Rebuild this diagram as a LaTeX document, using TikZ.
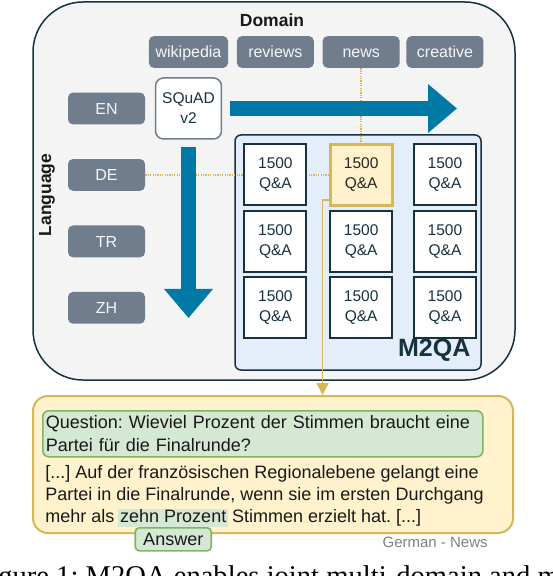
\documentclass[tikz,border=0pt]{standalone}
\usepackage{fontspec}
\setmainfont{Liberation Sans}
\newfontfamily\captionserif{Liberation Serif}
\usepackage{tikz}
\usetikzlibrary{positioning,arrows.meta}
\frenchspacing
\definecolor{darkline}{HTML}{17323F}
\definecolor{slate}{HTML}{6F7D8C}
\definecolor{bluearrow}{HTML}{007AA5}
\definecolor{panelfill}{HTML}{F4F4F4}
\definecolor{groupfill}{HTML}{E3EEFA}
\definecolor{goldfill}{HTML}{FFF2CC}
\definecolor{goldline}{HTML}{D6B656}
\definecolor{greenfill}{HTML}{D5E8D4}
\definecolor{greenline}{HTML}{82B366}
\newcommand{\tagfont}{\fontsize{8pt}{9.6pt}\selectfont}
\newcommand{\cellfont}{\fontsize{7.75pt}{10pt}\selectfont}
\newcommand{\qafont}{\fontsize{9pt}{11.5pt}\selectfont}
\tikzstyle{PanelNode}=[rectangle, draw=darkline, line width=0.75pt, fill=panelfill, rounded corners=25pt, minimum width=241pt, minimum height=189pt]
\tikzstyle{AxisLabel}=[font=\bfseries\fontsize{8.75pt}{10pt}\selectfont, text=black!90]
\tikzstyle{TagNode}=[rectangle, fill=slate, text=white!93!slate, rounded corners=2.5pt, minimum width=38.5pt, minimum height=15.75pt, text height=7.5pt, text depth=1.75pt, font=\tagfont]
\tikzstyle{SquadNode}=[rectangle, draw=slate, line width=0.75pt, fill=white, rounded corners=4pt, minimum width=30.5pt, minimum height=30.5pt, align=center, text=darkline, font=\cellfont]
\tikzstyle{GroupNode}=[rectangle, draw=darkline, line width=0.75pt, fill=groupfill, rounded corners=3pt, minimum width=123pt, minimum height=117.5pt]
\tikzstyle{CellNode}=[rectangle, draw=darkline, line width=1pt, fill=white, minimum width=31pt, minimum height=30.5pt, align=center, text=darkline, font=\cellfont]
\tikzstyle{PickedNode}=[CellNode, draw=goldline, line width=1.6pt, fill=goldfill, text=black!85]
\tikzstyle{AxisArrow}=[draw=bluearrow, line width=7.5pt, -{Triangle[width=23.5pt, length=14.5pt]}]
\tikzstyle{TraceLine}=[draw=goldline, line width=0.8pt, dash pattern=on 0.6pt off 0.6pt]
\tikzstyle{PickArrow}=[draw=goldline, line width=0.9pt, -{Triangle[width=6pt, length=6pt]}]
\tikzstyle{ExampleNode}=[rectangle, draw=goldline, line width=1pt, fill=goldfill, rounded corners=7.5pt, minimum width=240pt, minimum height=68.5pt]
\tikzstyle{QuestionNode}=[rectangle, draw=greenline, line width=0.8pt, fill=greenfill, rounded corners=3pt, text width=217pt, inner xsep=1.5pt, inner ysep=2pt, minimum height=23pt, align=left, text=black!90, font=\qafont]
\tikzstyle{TextLine}=[inner sep=0pt, text height=7.5pt, text depth=3.25pt, text=black!90, font=\qafont]
\tikzstyle{SpanNode}=[TextLine, fill=greenfill, inner xsep=1pt, text height=7pt, text depth=2pt]
\tikzstyle{AnswerNode}=[rectangle, draw=greenline, line width=0.8pt, fill=greenfill, rounded corners=2pt, minimum width=38pt, minimum height=11.5pt, inner sep=0pt, text=black!90, font=\qafont]

\begin{document}
\begin{tikzpicture}[x=0.5pt, y=-0.5pt, node distance=4pt]
    \useasboundingbox (0,0) rectangle (552,576);

    \node (panel) [PanelNode] at (274,191) {};
    \node (domain) [AxisLabel] at (272,20) {Domain};
    \node (language) [AxisLabel, rotate=90] at (47,195) {Language};

    \node (wikipedia) [TagNode] at (188.5,52) {wikipedia};
    \node (reviews) [TagNode, right=of wikipedia] {reviews};
    \node (news) [TagNode, right=of reviews] {news};
    \node (creative) [TagNode, right=3pt of news] {creative};

    \node (en) [TagNode] at (106.5,108.5) {EN};
    \node (de) [TagNode, below=16.9pt of en] {DE};
    \node (tr) [TagNode, below=16.9pt of de] {TR};
    \node (zh) [TagNode, below=16.9pt of tr] {ZH};

    \node (squad) [SquadNode] at (wikipedia |- en) {SQuAD\\v2};
    \node (group) [GroupNode] at (358,252.5) {};

    \draw [TraceLine] (de.east) -- (news |- de);
    \draw [TraceLine] (news.south) -- (news |- de);

    \node (cell11) [CellNode] at (reviews |- de) {1500\\Q\&A};
    \node (cell12) [PickedNode] at (news |- de) {1500\\Q\&A};
    \node (cell13) [CellNode] at (creative |- de) {1500\\Q\&A};
    \node (cell21) [CellNode] at (reviews |- tr) {1500\\Q\&A};
    \node (cell22) [CellNode] at (news |- tr) {1500\\Q\&A};
    \node (cell23) [CellNode] at (creative |- tr) {1500\\Q\&A};
    \node (cell31) [CellNode] at (reviews |- zh) {1500\\Q\&A};
    \node (cell32) [CellNode] at (news |- zh) {1500\\Q\&A};
    \node (cell33) [CellNode] at (creative |- zh) {1500\\Q\&A};
    \node (m2qa) [anchor=south east, inner sep=0pt, text=darkline, font=\bfseries\fontsize{12.5pt}{15pt}\selectfont] at ([xshift=-5.5pt, yshift=4.5pt]group.south east) {M2QA};

    \coordinate (domaintip) at (457,108.5);
    \coordinate (langtip) at (188.5,318);
    \draw [AxisArrow] ([xshift=4pt]squad.east) -- (domaintip);
    \draw [AxisArrow] ([yshift=-3.5pt]squad.south) -- (langtip);

    \node (example) [ExampleNode] at (273,464.5) {};
    \coordinate (pickturn) at ([xshift=-3pt, yshift=3.5pt]cell12.south west);
    \draw [PickArrow] (pickturn -| cell12.west) -- (pickturn) -- (pickturn |- example.north);

    \node (question) [QuestionNode, below right=7.5pt and 5pt of example.north west] {Question: Wieviel Prozent der Stimmen braucht eine\\Partei für die Finalrunde?};
    \node (ctx1) [TextLine, below right=2.5pt and 1.5pt of question.south west] {[...] Auf der französischen Regionalebene gelangt eine};
    \node (ctx2) [TextLine, below right=0pt and 0pt of ctx1.south west] {Partei in die Finalrunde, wenn sie im ersten Durchgang};
    \node (ctx3) [TextLine, below right=0pt and 0pt of ctx2.south west] {mehr als};
    \node (span) [SpanNode, base right=1.5pt of ctx3] {zehn Prozent};
    \node (ctx4) [TextLine, base right=1.5pt of span] {Stimmen erzielt hat. [...]};
    \node (answer) [AnswerNode, below=0pt of span] {Answer};
    \node (source) [inner sep=0pt, text=gray, font=\fontsize{7.5pt}{9pt}\selectfont, below left=1.5pt and 13pt of example.south east] {German - News};

    \node (caption) [anchor=base west, inner sep=0pt, font=\captionserif\fontsize{14.3pt}{17pt}\selectfont] at (-26,585) {Figure 1: M2QA enables joint multi-domain and multi-lingual};
\end{tikzpicture}
\end{document}
